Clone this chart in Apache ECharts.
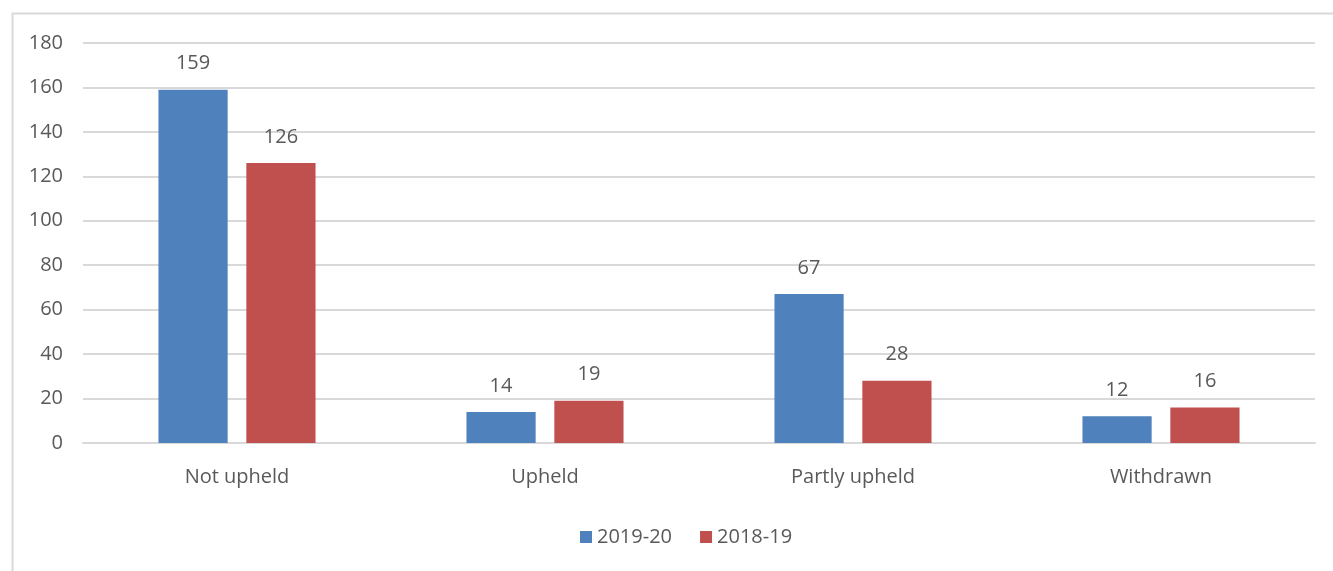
<!DOCTYPE html>
<html>
<head>
<meta charset="utf-8">
<title>Complaints outcome</title>
<script src="https://cdn.jsdelivr.net/npm/echarts@6/dist/echarts.min.js"></script>
<style>
  html, body { margin: 0; padding: 0; background: #fff; }
  #chart { width: 1333px; height: 571px; }
</style>
</head>
<body>
<div id="chart"></div>
<script>
// data
const categories = ['Not upheld', 'Upheld', 'Partly upheld', 'Withdrawn']
const seriesNames = ['2019-20', '2018-19']
const values2019 = [159, 14, 67, 12]
const values2018 = [126, 19, 28, 16]
const yTicks = { min: 0, max: 180, interval: 20 }

const textColor = '#595959'
const font = '"Open Sans", "Noto Sans", sans-serif'

const chart = echarts.init(document.getElementById('chart'))

const barLabel = {
  show: true,
  position: 'top',
  distance: 16,
  color: textColor,
  fontSize: 20,
  fontFamily: font,
}

chart.setOption({
  animation: false,
  textStyle: { fontFamily: font },
  // light frame around the plot area
  graphic: [
    {
      type: 'rect',
      left: 10,
      top: 11,
      shape: { width: 1400, height: 600 },
      style: { fill: 'none', stroke: '#d9d9d9', lineWidth: 2 },
      silent: true,
    },
  ],
  legend: {
    data: seriesNames,
    bottom: 19,
    left: 575,
    icon: 'rect',
    itemWidth: 12,
    itemHeight: 12,
    itemGap: 28,
    textStyle: { color: textColor, fontSize: 20, fontFamily: font },
  },
  grid: { left: 83, right: 18, top: 43, bottom: 128 },
  xAxis: {
    type: 'category',
    data: categories,
    axisLine: { lineStyle: { color: '#d9d9d9', width: 2 } },
    axisTick: { show: false },
    axisLabel: { color: textColor, fontSize: 20, margin: 24 },
  },
  yAxis: {
    type: 'value',
    min: yTicks.min,
    max: yTicks.max,
    interval: yTicks.interval,
    axisLine: { show: false },
    axisTick: { show: false },
    axisLabel: { color: textColor, fontSize: 20, margin: 20 },
    splitLine: { lineStyle: { color: '#d9d9d9', width: 2 } },
  },
  series: [
    {
      name: seriesNames[0],
      type: 'bar',
      data: values2019,
      barGap: '27%',
      barCategoryGap: '49%',
      itemStyle: { color: '#4f81bd' },
      label: barLabel,
    },
    {
      name: seriesNames[1],
      type: 'bar',
      data: values2018,
      itemStyle: { color: '#c0504d' },
      label: barLabel,
    },
  ],
})
</script>
</body>
</html>
